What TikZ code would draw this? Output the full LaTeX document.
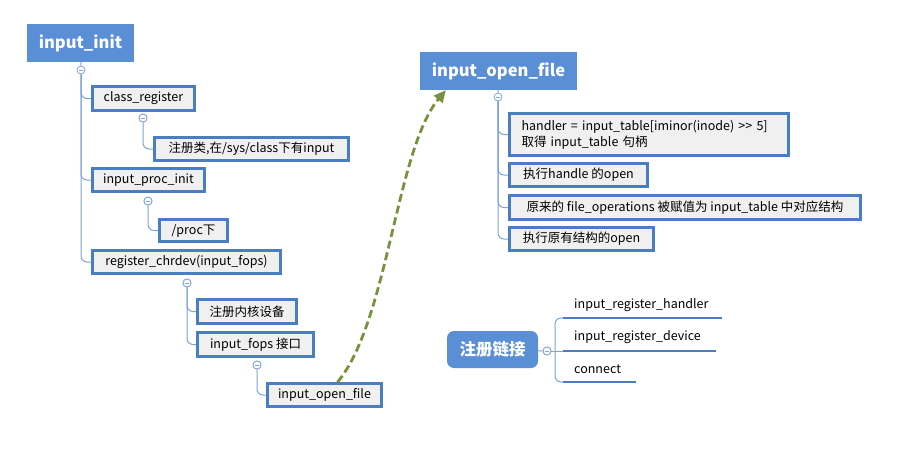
\documentclass[tikz,border=0pt]{standalone}
\usepackage{fontspec}
\setmainfont{Noto Sans CJK SC}
\usetikzlibrary{arrows.meta}
\definecolor{bord}{HTML}{4A7EC2}
\definecolor{tfill}{HTML}{5A8ED5}
\definecolor{bfill}{HTML}{F0F0F0}
\definecolor{lnc}{HTML}{7FA3D6}
\definecolor{grn}{HTML}{76923C}
\tikzset{
 box/.style={draw=bord, line width=2.8pt, fill=bfill, font=\fontsize{12.5}{16}\selectfont, inner sep=0pt},
 ttl/.style={fill=tfill, text=white, font=\fontsize{16.5}{19}\selectfont\bfseries, inner sep=0pt},
 tog/.style={circle, draw=lnc, fill=white, line width=0.8pt, minimum size=8pt, inner sep=0pt,
   path picture={\draw[lnc, line width=0.8pt] ([xshift=-2.2pt]path picture bounding box.center) -- ([xshift=2.2pt]path picture bounding box.center);}},
 conn/.style={draw=lnc, line width=1pt, rounded corners=6pt},
 uline/.style={draw=bord, line width=2.5pt},
 plain/.style={font=\fontsize{12.5}{16}\selectfont, inner sep=0pt, anchor=west},
}
\begin{document}
\begin{tikzpicture}[x=1pt,y=-1pt]
\useasboundingbox (0,0) rectangle (911,453);
% titles
\node[ttl, minimum width=107pt, minimum height=38pt] (ii) at (80.5,43) {input\_init};
\node[ttl, minimum width=157pt, minimum height=38pt] (iot) at (498.5,71) {input\_open\_file};
\node[ttl, rounded corners=7pt, minimum width=91pt, minimum height=37pt] (reg) at (492.5,349.5) {注册链接};
% toggles
\node[tog] (c0) at (81,70) {};
\node[tog] (c1) at (143,118) {};
\node[tog] (c2) at (148,201) {};
\node[tog] (c3) at (187,283) {};
\node[tog] (c4) at (257,365) {};
\node[tog] (c5) at (498,97) {};
\node[tog] (c6) at (547,351) {};
% connectors (drawn first, boxes on top)
\draw[conn] (ii) -- (c0);
\draw[conn] (c0.south) |- (97,98.5);
\draw[conn] (c0.south) |- (97,180);
\draw[conn] (c0.south) |- (97,262);
\draw[conn] (c1.south) |- (160,149);
\draw[conn] (c2.south) |- (164,230.5);
\draw[conn] (c3.south) |- (202,311.5);
\draw[conn] (c3.south) |- (202,344.5);
\draw[conn] (c4.south) |- (272,395);
\draw[conn] (iot) -- (c5);
\draw[conn] (c5.south) |- (514,134.5);
\draw[conn] (c5.south) |- (514,175);
\draw[conn] (c5.south) |- (514,207.5);
\draw[conn] (c5.south) |- (514,239);
% left tree boxes
\node[box, minimum width=102pt, minimum height=24pt] (cr) at (143.5,98.5) {class\_register};
\node[box, minimum width=194pt, minimum height=23pt] (sysc) at (251.5,149) {注册类,在/sys/class下有input};
\node[box, minimum width=112pt, minimum height=23pt] (pi) at (148.5,180) {input\_proc\_init};
\node[box, minimum width=68pt, minimum height=22pt] (proc) at (193.5,230.5) {/proc下};
\node[box, minimum width=188pt, minimum height=23pt] (rc) at (186.5,262) {register\_chrdev(input\_fops)};
\node[box, minimum width=99pt, minimum height=24pt] (zc) at (247,311.5) {注册内核设备};
\node[box, minimum width=116pt, minimum height=24pt] (fops) at (255.5,344.5) {input\_fops 接口};
\node[box, minimum width=114pt, minimum height=23pt] (iof) at (324.5,395) {input\_open\_file};
% right tree boxes
\node[box, minimum width=279pt, minimum height=42pt, text width=255pt, align=left] (hd) at (649,134.5) {handler = input\_table[iminor(inode) >{}> 5]\\取得 input\_table 句柄};
\node[box, minimum width=138pt, minimum height=23pt] (ho) at (578.5,175) {执行handle 的open};
\node[box, minimum width=351pt, minimum height=24pt] (fo) at (685,207.5) {原来的 file\_operations 被赋值为 input\_table 中对应结构};
\node[box, minimum width=144pt, minimum height=23pt] (yo) at (581.5,239) {执行原有结构的open};
% redraw toggles on top
\node[tog] at (c1) {};
\node[tog] at (c2) {};
\node[tog] at (c3) {};
\node[tog] at (c4) {};
% green dashed link
\draw[grn, line width=2.8pt, dash pattern=on 8pt off 4pt, -{Triangle[length=12pt,width=11pt]}]
  ([xshift=13pt]iof.north) .. controls (388,322) and (396,150) .. ([xshift=26pt]iot.south west);
% register group
\coordinate (j) at (555,351);
\coordinate (u1s) at (563,318); \coordinate (u1e) at (722,318);
\coordinate (u2s) at (563,351); \coordinate (u2e) at (716,351);
\coordinate (u3s) at (563,382); \coordinate (u3e) at (636,382);
\draw[conn] (reg) -- (c6);
\draw[conn] (c6) -- (j);
\draw[conn] (j) |- (u1s);
\draw[conn] (j) -- (u2s);
\draw[conn] (j) |- (u3s);
\draw[uline] (u1s) -- (u1e);
\draw[uline] (u2s) -- (u2e);
\draw[uline] (u3s) -- (u3e);
\node[tog] at (c6) {};
\node[plain] (h1) at (574,305) {input\_register\_handler};
\node[plain] (h2) at (574,337) {input\_register\_device};
\node[plain] (h3) at (574,369) {connect};
\end{tikzpicture}
\end{document}
